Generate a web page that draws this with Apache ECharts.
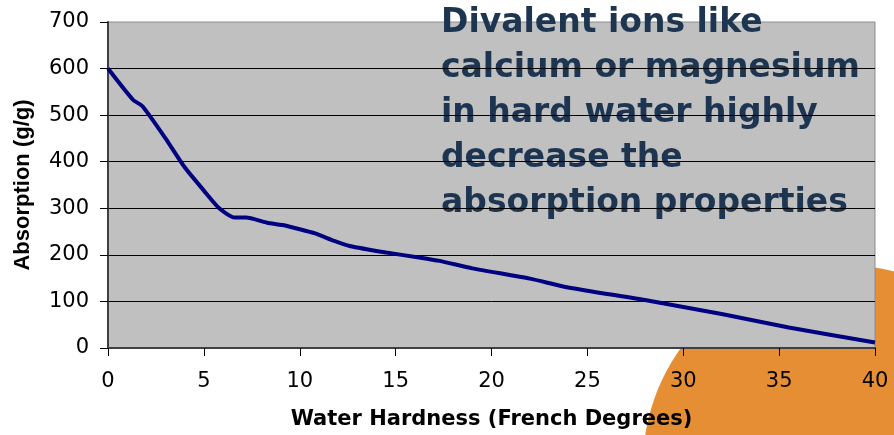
<!DOCTYPE html>
<html>
<head>
<meta charset="utf-8">
<script src="https://cdn.jsdelivr.net/npm/echarts@6/dist/echarts.min.js"></script>
<style>
  html, body { margin: 0; padding: 0; background: #fff; }
  #chart { width: 894px; height: 435px; }
</style>
</head>
<body>
<div id="chart"></div>
<script>
// water hardness (French degrees) vs absorption (g/g)
var hardness   = [0, 1.3, 1.8, 3, 4, 5, 5.8, 6.6, 7.2, 8.3, 9.1, 10, 10.8, 11.8, 12.6, 14.5, 16.3, 17.3, 19, 22, 24, 28, 32, 35.5, 40];
var absorption = [600, 533, 519, 450, 388, 338, 300, 280, 280, 269, 264, 255, 246, 230, 219, 205, 194, 187, 171, 149, 130, 103, 73, 44, 12];
var noteLines  = ['Divalent ions like', 'calcium or magnesium', 'in hard water highly', 'decrease the', 'absorption properties'];

var points = hardness.map(function (x, i) { return [x, absorption[i]]; });

var chart = echarts.init(document.getElementById('chart'));

// big note sits on the grey plot but under the grid lines
var note = noteLines.map(function (line, i) {
    return {
        type: 'text',
        left: 441,
        top: 7 + i * 45,
        z: -1,
        style: {
            text: line,
            fill: '#1d3550',
            font: 'bold 33px "DejaVu Sans", sans-serif'
        }
    };
});

var tickFont = { fontFamily: 'DejaVu Sans', fontSize: 21, color: '#000' };

chart.setOption({
    animation: false,
    grid: {
        left: 108, right: 19, top: 22, bottom: 86,
        show: true,
        z: -2,
        backgroundColor: '#c0c0c0',
        borderColor: '#8c8c8c',
        borderWidth: 1
    },
    graphic: [
        {
            // orange disc peeking out behind the plot, bottom right
            type: 'circle',
            z: -3,
            shape: { cx: 843, cy: 465, r: 200 },
            style: { fill: '#e68e33' }
        }
    ].concat(note),
    xAxis: {
        type: 'value',
        min: 0, max: 40, interval: 5,
        name: 'Water Hardness (French Degrees)',
        nameLocation: 'middle',
        nameGap: 61,
        nameTextStyle: { fontFamily: 'DejaVu Sans', fontWeight: 'bold', fontSize: 21, color: '#000' },
        axisLine: { lineStyle: { color: '#404040', width: 2 } },
        axisTick: { length: 8, lineStyle: { color: '#000' } },
        axisLabel: Object.assign({ margin: 23 }, tickFont),
        splitLine: { show: false }
    },
    yAxis: {
        type: 'value',
        min: 0, max: 700, interval: 100,
        name: 'Absorption (g/g)',
        nameLocation: 'middle',
        nameGap: 74,
        nameTextStyle: { fontFamily: 'Liberation Sans', fontWeight: 'bold', fontSize: 22, color: '#000' },
        axisLine: { show: true, lineStyle: { color: '#404040', width: 2 } },
        axisTick: { show: true, length: 8, lineStyle: { color: '#000' } },
        axisLabel: Object.assign({ margin: 19 }, tickFont),
        splitLine: { show: true, showMaxLine: false, lineStyle: { color: '#000', width: 1 } }
    },
    series: [{
        type: 'line',
        data: points,
        symbol: 'none',
        smooth: 0.2,
        lineStyle: { color: '#000080', width: 4 }
    }]
});
</script>
</body>
</html>
